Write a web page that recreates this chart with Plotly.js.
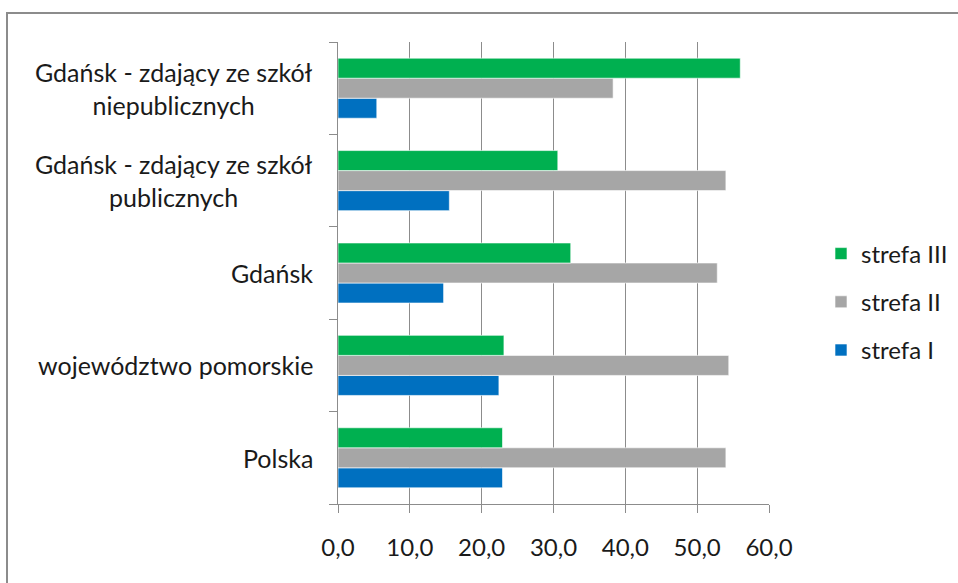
<!DOCTYPE html>
<html>
<head>
<meta charset="utf-8">
<script src="https://cdn.plot.ly/plotly-3.0.1.min.js"></script>
<style>
  body { margin: 0; background: #fff; }
  #frame { position: absolute; left: 6px; top: 12px; width: 970px; height: 600px;
           border-left: 2px solid #8c8c8c; border-top: 2px solid #8c8c8c; }
  #plot { position: absolute; left: 0; top: 0; width: 958px; height: 583px; }
</style>
</head>
<body>
<div id="frame"></div>
<div id="plot"></div>
<script>
var categories = [
  "Polska",
  "województwo pomorskie",
  "Gdańsk",
  "Gdańsk - zdający ze szkół<br>publicznych",
  "Gdańsk - zdający ze szkół<br>niepublicznych"
];
var strefa1 = [22.9, 22.4, 14.7, 15.5, 5.4];
var strefa2 = [54.0, 54.4, 52.8, 54.0, 38.3];
var strefa3 = [22.9, 23.1, 32.4, 30.6, 56.0];
var xTicks = [0, 10, 20, 30, 40, 50, 60];

var font = "Lato, 'Liberation Sans', sans-serif";

function series(name, values, color, rank) {
  return {
    type: "bar",
    orientation: "h",
    name: name,
    legendgroup: name,
    legendrank: rank,
    x: values,
    y: categories,
    marker: { color: color, line: { color: "rgba(255,255,255,0.6)", width: 1 } },
    hoverinfo: "x+name"
  };
}

var traces = [
  series("strefa I", strefa1, "#0070C0", 3),
  series("strefa II", strefa2, "#A6A6A6", 2),
  series("strefa III", strefa3, "#00B050", 1)
];

// category labels drawn as annotations so that two-line labels are centred
var labels = categories.map(function (c) {
  return {
    text: c, x: 0, xref: "paper", xanchor: "right", xshift: -23,
    y: c, yref: "y", yanchor: "middle", align: "center",
    showarrow: false, font: { family: font, size: 25, color: "#1a1a1a" }
  };
});

var layout = {
  width: 958,
  height: 583,
  margin: { l: 338, r: 189, t: 42, b: 79 },
  paper_bgcolor: "rgba(0,0,0,0)",
  plot_bgcolor: "rgba(0,0,0,0)",
  font: { family: font, size: 24, color: "#1a1a1a" },
  separators: ", ",
  barmode: "group",
  bargap: 0.35,
  bargroupgap: 0,
  showlegend: true,
  legend: {
    xref: "container", yref: "container",
    x: 0.857, y: 0.482, xanchor: "left", yanchor: "middle",
    traceorder: "grouped",
    tracegroupgap: 14,
    font: { family: font, size: 24, color: "#1a1a1a" }
  },
  xaxis: {
    range: [0, 60],
    tickvals: xTicks,
    tickformat: ".1f",
    showgrid: true,
    gridcolor: "#8c8c8c",
    gridwidth: 1,
    showline: true,
    linecolor: "#8c8c8c",
    linewidth: 1,
    ticks: "outside",
    ticklen: 8,
    tickcolor: "#8c8c8c",
    ticklabelstandoff: 14,
    zeroline: false,
    fixedrange: true
  },
  yaxis: {
    type: "category",
    showticklabels: false,
    tickson: "boundaries",
    ticks: "outside",
    ticklen: 8,
    tickcolor: "#8c8c8c",
    showgrid: false,
    showline: true,
    linecolor: "#8c8c8c",
    linewidth: 1,
    zeroline: false,
    fixedrange: true
  },
  annotations: labels
};

Plotly.newPlot("plot", traces, layout, { displayModeBar: false, staticPlot: true });
</script>
</body>
</html>
